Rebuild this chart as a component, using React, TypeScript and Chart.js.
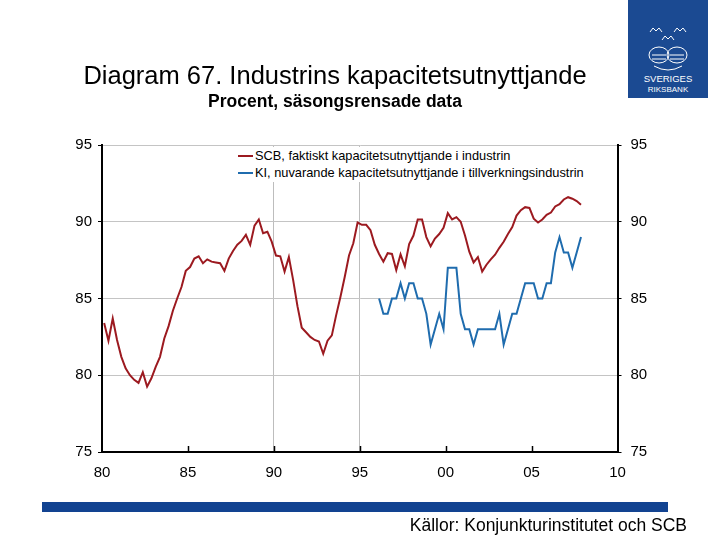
import { useEffect, useRef } from "react";
import { Chart, registerables } from "chart.js";

Chart.register(...registerables);

const FONT = '"Liberation Sans", Arial, Helvetica, sans-serif';

// Quarterly data
const SCB_START_YEAR = 1980;
const KI_START_YEAR = 1996;

const scbValues = [
  83.4, 82.25, 83.7, 82.3,
  81.2, 80.45, 80.0, 79.7,
  79.5, 80.2, 79.26, 79.8,
  80.55, 81.2, 82.4, 83.2,
  84.2, 85.0, 85.75, 86.8,
  87.05, 87.6, 87.75, 87.3,
  87.55, 87.4, 87.35, 87.3,
  86.8, 87.6, 88.1, 88.5,
  88.75, 89.15, 88.5, 89.75,
  90.15, 89.25, 89.35, 88.7,
  87.8, 87.75, 86.75, 87.7,
  86.2, 84.5, 83.1, 82.8,
  82.5, 82.3, 82.2, 81.4,
  82.25, 82.6, 83.9, 85.1,
  86.4, 87.8, 88.6, 89.95,
  89.8, 89.8, 89.45, 88.5,
  87.9, 87.4, 87.95, 87.9,
  86.85, 87.88, 87.1, 88.55,
  89.1, 90.15, 90.15, 89.0,
  88.4, 88.9, 89.2, 89.6,
  90.56, 90.15, 90.3, 90.0,
  89.1, 88.05, 87.35, 87.7,
  86.75, 87.2, 87.55, 87.85,
  88.3, 88.7, 89.2, 89.65,
  90.4, 90.75, 90.95, 90.9,
  90.2, 89.95, 90.15, 90.45,
  90.6, 91.0, 91.15, 91.45,
  91.6, 91.5, 91.35, 91.1,
];

const kiValues = [
  85, 84, 84, 85,
  85, 86, 85, 86,
  86, 85, 85, 84,
  82, 83, 84, 83,
  87, 87, 87, 84,
  83, 83, 82, 83,
  83, 83, 83, 83,
  84, 82, 83, 84,
  84, 85, 86, 86,
  86, 85, 85, 86,
  86, 88, 89, 88,
  88, 87, 88, 89,
];

const xTickValues = [1980, 1985, 1990, 1995, 2000, 2005, 2010];
const xGridValues = [1990, 1995];
const yTickValues = [75, 80, 85, 90, 95];

const seriesLabels = [
  "SCB, faktiskt kapacitetsutnyttjande i industrin",
  "KI, nuvarande kapacitetsutnyttjande i tillverkningsindustrin",
];
const seriesColors = ["#9c1a20", "#1f6cae"];

const titleText = "Diagram 67. Industrins kapacitetsutnyttjande";
const subtitleText = "Procent, säsongsrensade data";
const sourceText = "Källor: Konjunkturinstitutet och SCB";

const toPoints = (startYear: number, values: number[]) =>
  values.map((v, i) => ({ x: startYear + (i + 0.5) / 4, y: v }));

export default function App() {
  const canvasRef = useRef<HTMLCanvasElement | null>(null);

  useEffect(() => {
    if (!canvasRef.current) return;

    const inwardTicks = {
      id: "inwardTicks",
      afterDraw(chart: any) {
        const { ctx, chartArea, scales } = chart;
        const xs = scales.x;
        ctx.save();
        ctx.strokeStyle = "#000";
        ctx.lineWidth = 1.5;
        xTickValues.forEach((v) => {
          if (v === xTickValues[0] || v === xTickValues[xTickValues.length - 1]) return;
          const px = Math.round(xs.getPixelForValue(v)) + 0.5;
          ctx.beginPath();
          ctx.moveTo(px, chartArea.bottom);
          ctx.lineTo(px, chartArea.bottom - 6);
          ctx.stroke();
        });
        ctx.restore();
      },
    };

    const yTickFont = { family: FONT, size: 15 };

    const chart = new Chart(canvasRef.current, {
      type: "line",
      data: {
        datasets: [
          {
            label: seriesLabels[0],
            data: toPoints(SCB_START_YEAR, scbValues),
            borderColor: seriesColors[0],
            backgroundColor: seriesColors[0],
            borderWidth: 2,
            pointRadius: 0,
            tension: 0,
            yAxisID: "y",
          },
          {
            label: seriesLabels[1],
            data: toPoints(KI_START_YEAR, kiValues),
            borderColor: seriesColors[1],
            backgroundColor: seriesColors[1],
            borderWidth: 2,
            pointRadius: 0,
            tension: 0,
            yAxisID: "y",
          },
        ],
      },
      options: {
        responsive: false,
        animation: false,
        devicePixelRatio: 1,
        layout: { padding: { top: 145, left: 0, right: 0, bottom: 0 } },
        plugins: {
          legend: { display: false },
          title: { display: false },
          tooltip: { enabled: false },
        },
        scales: {
          x: {
            type: "linear",
            position: "bottom",
            min: 1980,
            max: 2010,
            afterBuildTicks: (s: any) => {
              s.ticks = xTickValues.map((v) => ({ value: v }));
            },
            afterFit: (s: any) => {
              s.height = 88;
            },
            ticks: {
              color: "#000",
              font: { family: FONT, size: 15 },
              padding: 12,
              maxRotation: 0,
              autoSkip: false,
              callback: (v: any) => String(Number(v) % 100).padStart(2, "0"),
            },
            grid: {
              drawTicks: false,
              lineWidth: 1,
              color: (ctx: any) =>
                ctx.tick && xGridValues.includes(ctx.tick.value) ? "#bdbdbd" : "rgba(0,0,0,0)",
            },
            border: { display: true, color: "#000", width: 2 },
          },
          y: {
            type: "linear",
            position: "left",
            min: 75,
            max: 95,
            afterBuildTicks: (s: any) => {
              s.ticks = yTickValues.map((v) => ({ value: v }));
            },
            afterFit: (s: any) => {
              s.width = 102;
            },
            ticks: { color: "#000", font: yTickFont, padding: 6 },
            grid: {
              color: "#c4c4c4",
              lineWidth: 1,
              tickColor: "#000",
              tickLength: 4,
            },
            border: { display: true, color: "#000", width: 2 },
          },
          y2: {
            type: "linear",
            position: "right",
            min: 75,
            max: 95,
            afterBuildTicks: (s: any) => {
              s.ticks = yTickValues.map((v) => ({ value: v }));
            },
            afterFit: (s: any) => {
              s.width = 102.5;
            },
            ticks: { color: "#000", font: yTickFont, padding: 9 },
            grid: {
              drawOnChartArea: false,
              tickColor: "#000",
              tickLength: 4,
            },
            border: { display: true, color: "#000", width: 2 },
          },
        },
      } as any,
      plugins: [inwardTicks],
    });

    return () => chart.destroy();
  }, []);

  const abs = (s: any) => ({ position: "absolute", ...s } as any);

  return (
    <div
      style={{
        position: "absolute",
        left: 0,
        top: 0,
        width: 720,
        height: 540,
        background: "#fff",
        overflow: "hidden",
        fontFamily: FONT,
        color: "#000",
      }}
    >
      <canvas ref={canvasRef} width={720} height={540} style={abs({ left: 0, top: 0, width: 720, height: 540 })} />

      {/* Title */}
      <div style={abs({ left: 0, top: 60, width: 670, textAlign: "center", fontSize: 25.5, lineHeight: "30px", whiteSpace: "nowrap" })}>
        {titleText}
      </div>
      <div style={abs({ left: 0, top: 90, width: 670, textAlign: "center", fontSize: 17.5, fontWeight: "bold", lineHeight: "22px", whiteSpace: "nowrap" })}>
        {subtitleText}
      </div>

      {/* Legend */}
      <div style={abs({ left: 236, top: 147, width: 360, height: 35, background: "#fff" })}>
        {seriesLabels.map((lab, i) => (
          <div key={i} style={abs({ left: 0, top: 1 + i * 17, height: 16, whiteSpace: "nowrap" })}>
            <div style={abs({ left: 2, top: 7, width: 15, height: 2, background: seriesColors[i] })} />
            <div style={abs({ left: 19, top: 0, fontSize: 12.8, lineHeight: "16px" })}>{lab}</div>
          </div>
        ))}
      </div>

      {/* Logo */}
      <svg style={abs({ left: 628, top: 0 })} width={80} height={98} viewBox="0 0 80 98">
        <rect x={0} y={0} width={80} height={98} fill="#1b4a92" />
        <g stroke="#fff" strokeWidth={1} fill="none">
          <path d="M22 32 l3 -4 l3 3 l3 -3 l3 4" />
          <path d="M46 32 l3 -4 l3 3 l3 -3 l3 4" />
          <path d="M34 40 l3 -4 l3 3 l3 -3 l3 4" />
          <ellipse cx={31} cy={55} rx={10} ry={8} />
          <ellipse cx={49} cy={55} rx={10} ry={8} />
          <path d="M24 55 h14 M42 55 h14 M24 59 h14 M42 59 h14" />
          <path d="M26 66 q14 8 28 0" />
        </g>
        <text x={40} y={82} fill="#fff" fontSize={9.5} textAnchor="middle" fontFamily={FONT}>
          SVERIGES
        </text>
        <text x={40} y={92} fill="#fff" fontSize={8} textAnchor="middle" fontFamily={FONT}>
          RIKSBANK
        </text>
      </svg>

      {/* Bottom bar and source */}
      <div style={abs({ left: 42, top: 502, width: 626, height: 10, background: "#124391" })} />
      <div style={abs({ right: 33, top: 514, fontSize: 17.5, lineHeight: "22px", whiteSpace: "nowrap" })}>{sourceText}</div>
    </div>
  );
}
